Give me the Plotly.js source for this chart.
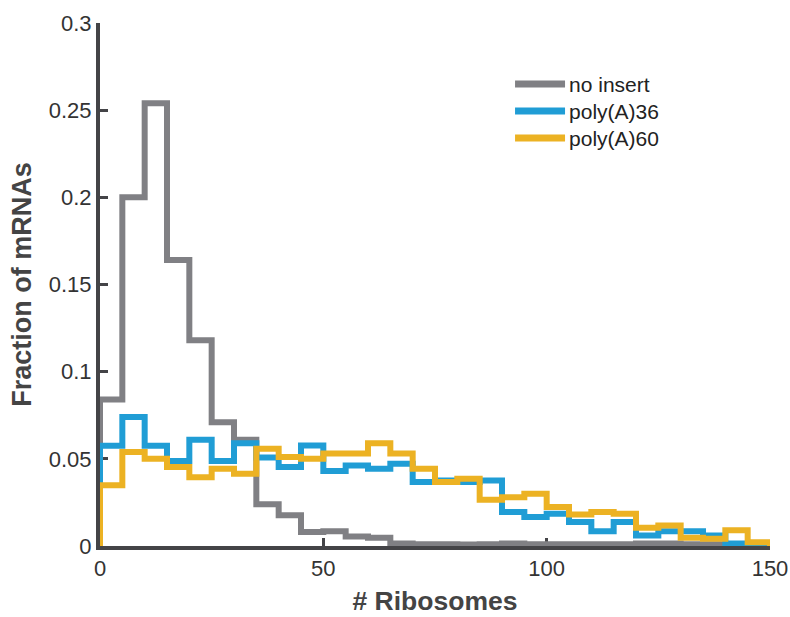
<!DOCTYPE html>
<html>
<head>
<meta charset="utf-8">
<script src="https://cdn.plot.ly/plotly-3.0.1.min.js"></script>
<style>
  html, body { margin: 0; padding: 0; background: #ffffff; }
  #chart { width: 790px; height: 617px; }
</style>
</head>
<body>
<div id="chart"></div>
<script>
// Bin left edges (# ribosomes), bin width 5, last edge 150
const binEdges = [0,5,10,15,20,25,30,35,40,45,50,55,60,65,70,75,80,85,90,95,100,105,110,115,120,125,130,135,140,145,150];

const noInsert = [0.084,0.200,0.254,0.164,0.118,0.071,0.061,0.024,0.0176,0.008,
                  0.0085,0.0055,0.0048,0.0015,0.001,0.001,0.0008,0.001,0.0015,0.001,
                  0.001,0.001,0.001,0.001,0.0015,0.0015,0.001,0.001,0.001,0.001];

const polyA36 = [0.0575,0.074,0.0575,0.0487,0.061,0.0487,0.059,0.0507,0.0453,0.0577,
                 0.043,0.0462,0.0443,0.0472,0.0367,0.0376,0.0367,0.0376,0.0195,0.0166,
                 0.0185,0.0137,0.0084,0.0137,0.006,0.0084,0.0084,0.006,0.0015,0.001];

const polyA60 = [0.0348,0.0539,0.0501,0.0453,0.0395,0.0443,0.0415,0.0558,0.051,0.050,
                 0.053,0.053,0.059,0.053,0.0443,0.0367,0.0386,0.0266,0.028,0.030,
                 0.0223,0.0181,0.0195,0.0185,0.0105,0.0118,0.0048,0.0042,0.009,0.0022];

const seriesNames = ['no insert', 'poly(A)36', 'poly(A)60'];
const seriesColors = ['#808084', '#209dd5', '#ecb223'];
const xTickVals = [0, 50, 100, 150];
const yTickVals = [0, 0.05, 0.1, 0.15, 0.2, 0.25, 0.3];
const yTickText = ['0', '0.05', '0.1', '0.15', '0.2', '0.25', '0.3'];

// Build closed stairs outline (MATLAB histogram 'stairs' style)
function stairs(vals) {
  const n = vals.length;
  const xs = [binEdges[0]];
  const ys = [0];
  for (let i = 0; i < n; i++) { xs.push(binEdges[i]); ys.push(vals[i]); }
  xs.push(binEdges[n]); ys.push(vals[n - 1]);
  xs.push(binEdges[n]); ys.push(0);
  return {x: xs, y: ys};
}

const allVals = [noInsert, polyA36, polyA60];
const traces = allVals.map((v, i) => {
  const s = stairs(v);
  return {
    type: 'scatter', mode: 'lines',
    x: s.x, y: s.y,
    name: seriesNames[i],
    line: {shape: 'hv', color: seriesColors[i], width: 6},
    hoverinfo: 'skip'
  };
});

const axisColor = '#444447';
const fontFam = 'Liberation Sans, Arial, Helvetica, sans-serif';
const legendLineLen = 50;
const legendRowGap = 27;

const layout = {
  width: 790, height: 617,
  margin: {l: 100, r: 20, t: 22.6, b: 71.4, pad: 0},
  paper_bgcolor: '#ffffff', plot_bgcolor: '#ffffff',
  font: {family: fontFam, color: '#333333', size: 20},
  showlegend: true,
  legend: {
    x: 0.612, y: 0.916, xanchor: 'left', yanchor: 'top',
    bgcolor: 'rgba(0,0,0,0)', borderwidth: 0,
    font: {family: fontFam, size: 21, color: '#222222'},
    tracegroupgap: 0, itemwidth: 49
  },
  xaxis: {
    range: [0, 150], tickvals: xTickVals, ticktext: xTickVals.map(String),
    showgrid: false, zeroline: false,
    showline: true, linecolor: axisColor, linewidth: 4,
    ticks: 'inside', ticklen: 8, tickwidth: 3, tickcolor: axisColor,
    tickfont: {family: fontFam, size: 22, color: '#333333'},
    layer: 'below traces',
    title: {text: '# Ribosomes', font: {family: fontFam, size: 26.5, color: '#444444', weight: 'bold'}, standoff: 12}
  },
  yaxis: {
    range: [0, 0.3], tickvals: yTickVals, ticktext: yTickText,
    showgrid: false, zeroline: false,
    showline: true, linecolor: axisColor, linewidth: 4,
    ticks: 'inside', ticklen: 8, tickwidth: 3, tickcolor: axisColor,
    tickfont: {family: fontFam, size: 22, color: '#333333'},
    layer: 'below traces',
    title: {text: 'Fraction of mRNAs', font: {family: fontFam, size: 27, color: '#444444', weight: 'bold'}, standoff: 10}
  }
};

Plotly.newPlot('chart', traces, layout, {displayModeBar: false, staticPlot: true}).then(gd => {
  // lengthen the legend line samples to match the reference
  gd.querySelectorAll('.legendlines path').forEach(p => {
    p.setAttribute('d', 'M5,0h' + legendLineLen);
    p.style.strokeWidth = '7px';
  });
  // tighten legend row spacing to match the reference
  const items = gd.querySelectorAll('.legend .traces');
  if (items.length) {
    const m = /translate\(\s*([-\d.]+)[ ,]+([-\d.]+)/.exec(items[0].getAttribute('transform') || '');
    const y0 = m ? parseFloat(m[2]) - 3 : 0;
    items.forEach((g, i) => {
      g.setAttribute('transform', 'translate(0,' + (y0 + i * legendRowGap) + ')');
    });
  }
});
</script>
</body>
</html>
